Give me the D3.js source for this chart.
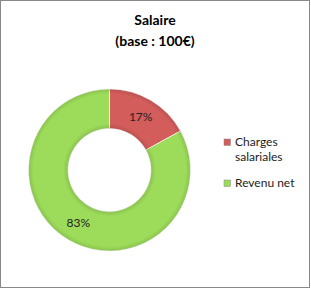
<!DOCTYPE html>
<html>
<head>
<title>Salaire</title>
<script src="https://d3js.org/d3.v7.min.js"></script>
<style>
  body { margin: 0; background: #fff; }
  #chart { display: block; }
</style>
</head>
<body>
<svg id="chart"></svg>
<script>
const categories = ["Charges salariales", "Revenu net"];
const values = [17, 83];
const colors = ["#d35d5b", "#9ddc5a"];
const legendLines = [["Charges", "salariales"], ["Revenu net"]];

const width = 311, height = 289;
const font = "Lato, 'Open Sans', sans-serif";

const svg = d3.select("#chart")
  .attr("width", width)
  .attr("height", height);

svg.append("rect")
  .attr("x", 0.5).attr("y", 0.5)
  .attr("width", width - 2).attr("height", height - 2)
  .attr("fill", "#fff")
  .attr("stroke", "#888")
  .attr("stroke-width", 1);

// titre
svg.append("text")
  .attr("x", 155).attr("y", 25)
  .attr("text-anchor", "middle")
  .attr("font-family", font)
  .attr("font-weight", "bold")
  .attr("font-size", "14px")
  .text("Salaire");
svg.append("text")
  .attr("x", 155).attr("y", 46)
  .attr("text-anchor", "middle")
  .attr("font-family", font)
  .attr("font-weight", "bold")
  .attr("font-size", "14px")
  .text("(base : 100€)");

const cx = 109.5, cy = 170, outerR = 81, innerR = 41.5;

const pie = d3.pie().sort(null).value(d => d);
const arc = d3.arc().innerRadius(innerR).outerRadius(outerR);
const labelArc = d3.arc().innerRadius((innerR + outerR) / 2).outerRadius((innerR + outerR) / 2);

const g = svg.append("g").attr("transform", `translate(${cx},${cy})`);

const arcs = pie(values);

g.selectAll("path.slice")
  .data(arcs)
  .join("path")
  .attr("class", "slice")
  .attr("d", arc)
  .attr("fill", (d, i) => colors[i])
  .attr("stroke", "#fff")
  .attr("stroke-width", 0.6);

// léger effet de biseau
const defs = svg.append("defs");
const grad = defs.append("radialGradient")
  .attr("id", "bevel")
  .attr("gradientUnits", "userSpaceOnUse")
  .attr("cx", 0).attr("cy", 0).attr("r", outerR);
grad.append("stop").attr("offset", innerR / outerR).attr("stop-color", "#000").attr("stop-opacity", 0.12);
grad.append("stop").attr("offset", (innerR + 5) / outerR).attr("stop-color", "#000").attr("stop-opacity", 0);
grad.append("stop").attr("offset", (outerR - 5) / outerR).attr("stop-color", "#000").attr("stop-opacity", 0);
grad.append("stop").attr("offset", 1).attr("stop-color", "#000").attr("stop-opacity", 0.12);

g.append("path")
  .attr("d", d3.arc().innerRadius(innerR).outerRadius(outerR).startAngle(0).endAngle(2 * Math.PI)())
  .attr("fill", "url(#bevel)")
  .attr("pointer-events", "none");

g.selectAll("text.label")
  .data(arcs)
  .join("text")
  .attr("class", "label")
  .attr("transform", d => `translate(${labelArc.centroid(d)})`)
  .attr("text-anchor", "middle")
  .attr("dy", "0.35em")
  .attr("font-family", font)
  .attr("font-size", "12px")
  .attr("fill", "#222")
  .text(d => d.value + "%");

// légende
const legendY = [142, 183];
const legend = svg.append("g");
categories.forEach((c, i) => {
  legend.append("rect")
    .attr("x", 224).attr("y", legendY[i] - 3)
    .attr("width", 6.5).attr("height", 6.5)
    .attr("fill", colors[i])
    .attr("stroke", "#888")
    .attr("stroke-width", 0.5);
  legendLines[i].forEach((line, j) => {
    legend.append("text")
      .attr("x", 235)
      .attr("y", legendY[i] + 4 + j * 15)
      .attr("font-family", font)
      .attr("font-size", "12px")
      .attr("fill", "#222")
      .text(line);
  });
});
</script>
</body>
</html>
